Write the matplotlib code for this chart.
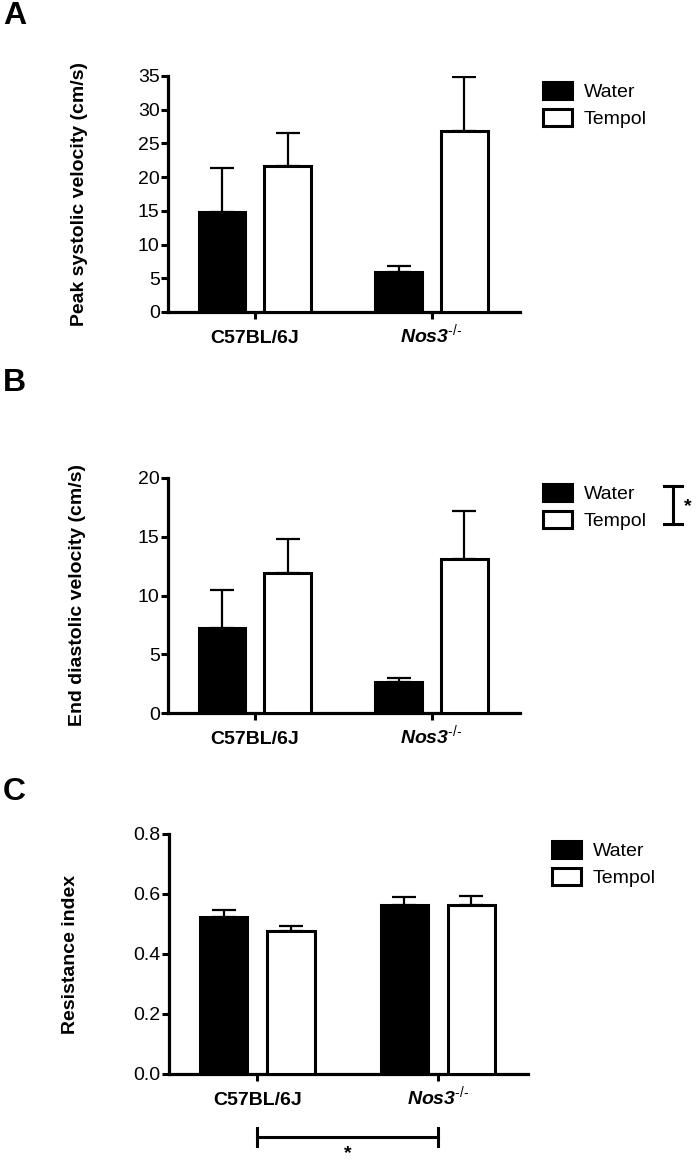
import numpy as np
import matplotlib.pyplot as plt
from matplotlib.patches import Patch

plt.rcParams['font.family'] = ['Liberation Sans', 'DejaVu Sans']
plt.rcParams['mathtext.fontset'] = 'custom'
plt.rcParams['mathtext.bfit'] = 'Liberation Sans:italic:bold'
plt.rcParams['mathtext.it'] = 'Liberation Sans:italic'
plt.rcParams['mathtext.rm'] = 'Liberation Sans'

groups = ['C57BL/6J', '$\\mathbfit{Nos3}^{\\mathit{\u2010/\u2010}}$']
series = ['Water', 'Tempol']

# panel A: peak systolic velocity (cm/s)
psv_water = [14.8, 6.0]
psv_water_sem = [6.6, 0.8]
psv_tempol = [21.6, 26.8]
psv_tempol_sem = [4.9, 8.1]

# panel B: end diastolic velocity (cm/s)
edv_water = [7.2, 2.6]
edv_water_sem = [3.3, 0.4]
edv_tempol = [11.9, 13.1]
edv_tempol_sem = [2.9, 4.1]

# panel C: resistance index
ri_water = [0.522, 0.563]
ri_water_sem = [0.025, 0.028]
ri_tempol = [0.478, 0.563]
ri_tempol_sem = [0.016, 0.031]

W, H = 697, 1160
fig = plt.figure(figsize=(W / 100, H / 100), dpi=100)


def px_axes(left, top, right, bottom):
    return fig.add_axes([left / W, 1 - bottom / H, (right - left) / W, (bottom - top) / H])


def bar_panel(ax, water, water_sem, tempol, tempol_sem, yticks, ylabel, fmt, labx):
    x = np.arange(len(groups))
    off, w = 0.186, 0.262
    ax.bar(x - off, water, w, color='black', edgecolor='black', linewidth=2.2, zorder=3)
    ax.bar(x + off, tempol, w, color='white', edgecolor='black', linewidth=2.2, zorder=3)
    for xs, m, s in [(x - off, water, water_sem), (x + off, tempol, tempol_sem)]:
        ax.errorbar(xs, m, yerr=[np.zeros(len(m)), s], fmt='none', ecolor='black',
                    elinewidth=1.6, capsize=8.5, capthick=1.6, zorder=2)
    ax.set_xlim(-0.49, 1.5)
    ax.set_ylim(yticks[0], yticks[-1])
    ax.set_yticks(yticks)
    ax.set_yticklabels([fmt.format(t) for t in yticks])
    ax.set_xticks(x)
    ax.set_xticklabels(groups, fontweight='bold', fontsize=14)
    # align both group names on one baseline (the superscript makes one box taller)
    for lbl in ax.get_xticklabels():
        lbl.set_verticalalignment('baseline')
    for s in ['top', 'right']:
        ax.spines[s].set_visible(False)
    for s in ['left', 'bottom']:
        ax.spines[s].set_linewidth(2.3)
    ax.tick_params(axis='y', length=5, width=2.2, labelsize=14, pad=1)
    ax.tick_params(axis='x', length=5, width=2.2, pad=17)
    ax.set_ylabel(ylabel, fontweight='bold', fontsize=14)
    ax.yaxis.set_label_coords(labx, 0.5)


handles = [Patch(facecolor='black', edgecolor='black', linewidth=2.2, label=series[0]),
           Patch(facecolor='white', edgecolor='black', linewidth=2.2, label=series[1])]


def add_legend(ax, xpx, ypx):
    ax.legend(handles=handles, loc='upper left', bbox_to_anchor=(xpx / W, 1 - ypx / H),
              bbox_transform=fig.transFigure, frameon=False, fontsize=14,
              handlelength=1.5, handleheight=0.93, handletextpad=0.6, labelspacing=0.42,
              borderaxespad=0, borderpad=0)


# A
axA = px_axes(168, 76, 520, 312)
bar_panel(axA, psv_water, psv_water_sem, psv_tempol, psv_tempol_sem,
          np.arange(0, 36, 5), 'Peak systolic velocity (cm/s)', '{:g}', -0.227)
add_legend(axA, 543, 82)

# B
axB = px_axes(168, 478, 520, 713)
bar_panel(axB, edv_water, edv_water_sem, edv_tempol, edv_tempol_sem,
          np.arange(0, 21, 5), 'End diastolic velocity (cm/s)', '{:g}', -0.233)
add_legend(axB, 543, 484)
# significance bracket next to the legend
fig.lines.append(plt.Line2D([673 / W, 673 / W], [1 - 486 / H, 1 - 524 / H], color='black',
                            lw=2.2, transform=fig.transFigure))
for yy in [486, 524]:
    fig.lines.append(plt.Line2D([664 / W, 682 / W], [1 - yy / H, 1 - yy / H], color='black',
                                lw=2.2, transform=fig.transFigure))
fig.text(684 / W, 1 - 507 / H, '*', fontsize=14, fontweight='bold', ha='left', va='center')

# C
axC = px_axes(169, 834, 528, 1074)
bar_panel(axC, ri_water, ri_water_sem, ri_tempol, ri_tempol_sem,
          np.round(np.arange(0, 0.81, 0.2), 1), 'Resistance index', '{:.1f}', -0.25)
add_legend(axC, 552, 841)
# strain effect bracket below the x axis
ybr = -63 / 240
axC.plot([0, 1], [ybr, ybr], color='black', lw=2.2, transform=axC.get_xaxis_transform(),
         clip_on=False)
for xx in [0, 1]:
    axC.plot([xx, xx], [ybr - 9 / 240, ybr + 9 / 240], color='black', lw=2.2,
             transform=axC.get_xaxis_transform(), clip_on=False)
axC.text(0.5, ybr - 8 / 240, '*', fontsize=14, fontweight='bold', ha='center', va='top',
         transform=axC.get_xaxis_transform())

for lab, ypx in [('A', 16), ('B', 383), ('C', 792)]:
    fig.text(3 / W, 1 - ypx / H, lab, fontsize=23, fontweight='bold', ha='left', va='center')

fig.savefig('out.png', dpi=100)
